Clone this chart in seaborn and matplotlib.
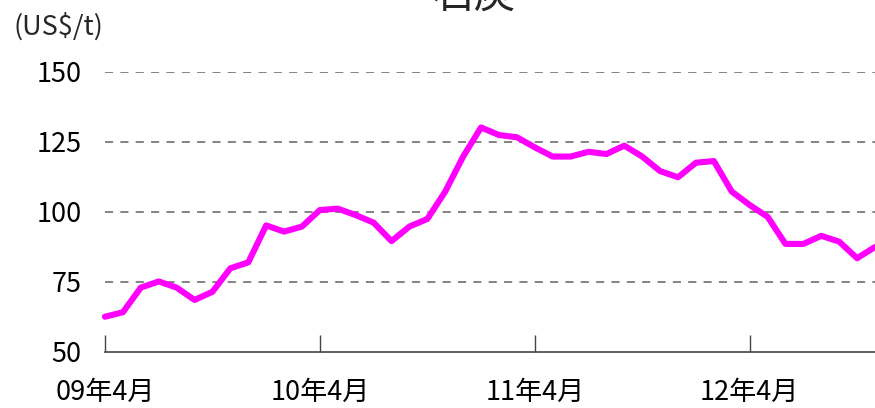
import matplotlib
matplotlib.use("Agg")
import matplotlib.pyplot as plt
import pandas as pd
import seaborn as sns

# Monthly coal price (US$/t), 2009-04 .. 2012-11
months = list(range(44))
price = [62.6, 64.2, 73.0, 75.2, 73.0, 68.6, 71.5, 79.9, 82.0, 95.2,
         93.0, 94.8, 100.7, 101.2, 98.9, 96.2, 89.6, 94.8, 97.5, 107.3,
         119.8, 130.2, 127.5, 126.7, 123.1, 119.8, 119.8, 121.5, 120.7, 123.7,
         119.8, 114.6, 112.4, 117.6, 118.2, 107.3, 102.5, 98.3, 88.6, 88.6,
         91.5, 89.4, 83.5, 87.5]
tick_pos = [0, 12, 24, 36]
tick_labels = ["09年4月", "10年4月", "11年4月", "12年4月"]
y_ticks = [50, 75, 100, 125, 150]

sns.set_theme(style="white")
plt.rcParams["font.family"] = ["Noto Sans CJK JP", "DejaVu Sans"]

df = pd.DataFrame({"month": months, "price": price})

fig = plt.figure(figsize=(8.75, 4.08), dpi=100)
ax = fig.add_axes([105 / 875, 56 / 408, 770 / 875, 280 / 408])

for y in y_ticks[1:]:
    ax.axhline(y, color="#7a7a7a", lw=1.3, ls=(0, (4.5, 4)), zorder=1)

sns.lineplot(data=df, x="month", y="price", ax=ax, color="#FF00FF",
             lw=4.4, zorder=3, clip_on=False)

ax.set_xlim(0, 43)
ax.set_ylim(50, 150)
ax.set_xticks(tick_pos)
ax.set_xticklabels(tick_labels, fontsize=19.5, color="black")
ax.set_yticks(y_ticks)
ax.set_yticklabels([str(v) for v in y_ticks], fontsize=19.5, color="black")
ax.tick_params(axis="x", direction="in", length=12, width=1, color="#444444",
               pad=19, bottom=True)
ax.tick_params(axis="y", length=0, pad=17)
ax.set_xlabel("")
ax.set_ylabel("")
for side in ["left", "right", "top"]:
    ax.spines[side].set_visible(False)
ax.spines["bottom"].set_color("#444444")
ax.spines["bottom"].set_linewidth(1.2)

fig.text(14 / 875, 1 - 27 / 408, "(US$/t)", fontsize=19.5, va="center", ha="left")
fig.text(475 / 875, 1 + 4 / 408, "石炭", fontsize=30, va="center", ha="center")

fig.savefig("out.png", dpi=100)
